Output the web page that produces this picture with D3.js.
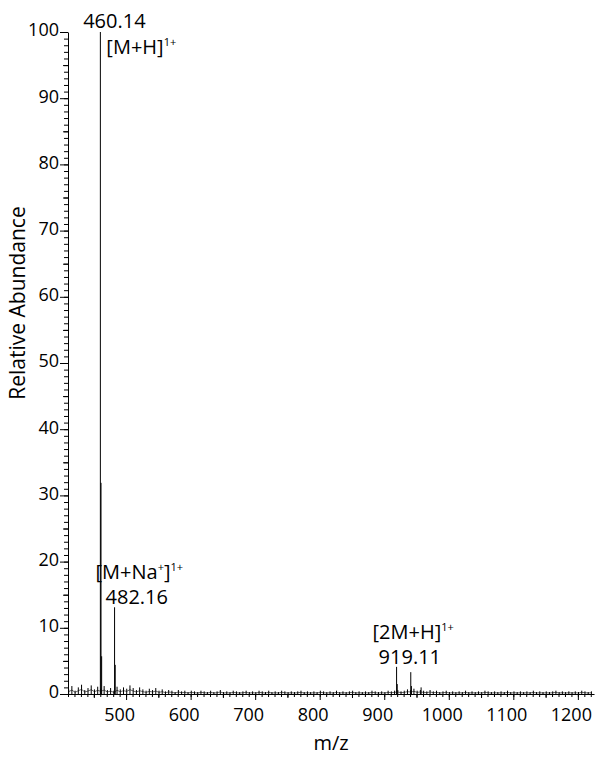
<!DOCTYPE html>
<html>
<head>
<meta charset="utf-8">
<script src="https://cdn.jsdelivr.net/npm/d3@7"></script>
<style>
  html, body { margin: 0; padding: 0; background: #fff; }
  svg { display: block; font-family: "Open Sans", "Noto Sans", sans-serif; }
</style>
</head>
<body>
<svg id="chart" width="596" height="757"></svg>
<script>
// ---------- data ----------
const xTickValues = [500, 600, 700, 800, 900, 1000, 1100, 1200];
const yTickValues = [0, 10, 20, 30, 40, 50, 60, 70, 80, 90, 100];

// centroid peaks (m/z, relative abundance %)
const peakMz  = [460.14, 461.14, 462.14, 482.16, 483.16, 919.11, 920.11, 941.10, 942.10, 957.10];
const peakInt = [100,    31.9,   5.7,    13.1,   4.4,    4.1,    1.5,    3.3,    1.2,    1.0];

// baseline noise sampled every 5 m/z starting at 411
const noiseStart = 411;
const noiseStep = 5;
const noiseInt = [
  0.7,1.2,0.5,1.0,1.4,0.6,0.9,1.3,0.7,1.1,0.8,1.2,
  0.6,0.9,0.5,1.1,0.7,1.0,0.8,1.3,
  0.9,0.6,1.0,0.7,0.5,0.8,0.6,0.9,0.5,0.7,
  0.4,0.6,0.5,0.3,0.6,0.4,0.5,0.3,0.5,0.4,
  0.3,0.5,0.4,0.3,0.5,0.3,0.4,0.6,0.3,0.4,0.3,0.5,0.4,0.3,0.4,0.5,0.3,0.4,0.3,0.5,
  0.4,0.3,0.5,0.3,0.4,0.3,0.5,0.4,0.3,0.4,0.3,0.4,0.5,0.3,0.4,0.3,0.4,0.3,0.5,0.4,
  0.3,0.4,0.3,0.5,0.3,0.4,0.3,0.4,0.5,0.3,0.4,0.3,0.4,0.3,0.5,0.4,0.3,0.4,0.3,0.5,
  0.4,0.5,0.6,0.4,0.5,0.7,0.6,0.8,0.5,0.6,0.5,0.4,0.6,0.4,0.5,0.3,0.4,0.5,0.3,0.4,
  0.3,0.4,0.3,0.5,0.3,0.4,0.3,0.4,0.3,0.5,0.4,0.3,0.4,0.3,0.4,0.3,0.5,0.3,0.4,0.3,
  0.4,0.3,0.4,0.3,0.5,0.3,0.4,0.3,0.4,0.3,0.4,0.5,0.3,0.4,0.3,0.4,0.3,0.4,0.3,0.5,0.4,0.3,0.4
];

// annotations
const annoPeak  = [460.14, 482.16, 919.11];
const annoMass  = ["460.14", "482.16", "919.11"];
const annoIon   = [["[M+H]", "1+"], ["[M+Na", "+", "]", "1+"], ["[2M+H]", "1+"]];

// ---------- layout ----------
const svg = d3.select("#chart");
const x = d3.scaleLinear().domain([410, 1225]).range([68, 594]);
const y = d3.scaleLinear().domain([0, 100]).range([694, 32]);

// ---------- axes ----------
const axisFont = 18;
const xMinor = d3.range(410, 1221, 10);
const yMinor = d3.range(0, 101, 1);

const gx = svg.append("g").attr("transform", `translate(0,${y(0)})`);
gx.call(d3.axisBottom(x).tickValues(xMinor).tickSize(3).tickSizeOuter(0).tickFormat(""));
gx.append("g").call(d3.axisBottom(x).tickValues(d3.range(450, 1221, 100)).tickSize(4).tickFormat(""))
  .select(".domain").remove();
const gxMaj = gx.append("g").call(d3.axisBottom(x).tickValues(xTickValues).tickSize(6).tickPadding(8).tickFormat(d3.format("d")));
gxMaj.select(".domain").remove();
gxMaj.selectAll("text").attr("font-size", axisFont).attr("font-family", "Open Sans").attr("fill", "#000").attr("dx", -7);

const gy = svg.append("g").attr("transform", `translate(${x(410)},0)`);
gy.call(d3.axisLeft(y).tickValues(yMinor).tickSize(4).tickSizeOuter(0).tickFormat(""));
gy.append("g").call(d3.axisLeft(y).tickValues(d3.range(5, 100, 10)).tickSize(5).tickFormat(""))
  .select(".domain").remove();
const gyMaj = gy.append("g").call(d3.axisLeft(y).tickValues(yTickValues).tickSize(8).tickPadding(1).tickFormat(d3.format("d")));
gyMaj.select(".domain").remove();
gyMaj.selectAll("text").attr("font-size", axisFont).attr("font-family", "Open Sans").attr("fill", "#000").attr("dy", "0.22em");

svg.selectAll(".domain").attr("stroke", "#000").attr("stroke-width", 1);
svg.selectAll(".tick line").attr("stroke", "#000").attr("stroke-width", 1);

// ---------- noise (sticks + thin trace) ----------
const noiseData = noiseInt.map((v, i) => [noiseStart + i * noiseStep, v]);
svg.append("path")
  .datum(noiseData)
  .attr("fill", "none")
  .attr("stroke", "#000")
  .attr("stroke-width", 0.6)
  .attr("d", d3.line().x(d => x(d[0])).y(d => y(d[1] * 0.5)));

svg.append("g").selectAll("line")
  .data(noiseData)
  .join("line")
  .attr("x1", d => x(d[0])).attr("x2", d => x(d[0]))
  .attr("y1", y(0)).attr("y2", d => y(d[1]))
  .attr("stroke", "#000").attr("stroke-width", 1);

// ---------- peaks ----------
const peaks = peakMz.map((m, i) => ({ mz: m, v: peakInt[i] }));
svg.append("g").selectAll("line")
  .data(peaks)
  .join("line")
  .attr("x1", d => x(d.mz)).attr("x2", d => x(d.mz))
  .attr("y1", y(0)).attr("y2", d => y(d.v))
  .attr("stroke", "#000").attr("stroke-width", 1);

// ---------- annotations ----------
const annoFont = 20;
const supFont = 11;
const massCfg = [{ dx: 14, anchor: "middle" }, { dx: -9, anchor: "start" }, { dx: -18, anchor: "start" }];
const ionCfg  = [{ dx: 6 }, { dx: -19 }, { dx: -24 }];

annoPeak.forEach((m, i) => {
  const px = x(m);
  const top = y(peakInt[peakMz.indexOf(m)]);
  svg.append("text")
    .attr("x", px + massCfg[i].dx)
    .attr("y", (i === 0 ? 28 : top - 3))
    .attr("text-anchor", massCfg[i].anchor)
    .attr("font-size", annoFont)
    .attr("fill", "#000")
    .text(annoMass[i]);

  const t = svg.append("text")
    .attr("x", px + ionCfg[i].dx)
    .attr("y", (i === 0 ? 54 : top - 28))
    .attr("font-size", annoFont)
    .attr("fill", "#000");
  const parts = annoIon[i];
  t.append("tspan").text(parts[0]);
  t.append("tspan").attr("font-size", supFont).attr("dy", -8).text(parts[1]);
  if (parts.length > 2) {
    t.append("tspan").attr("dy", 8).text(parts[2]);
    t.append("tspan").attr("font-size", supFont).attr("dy", -8).text(parts[3]);
  }
});

// ---------- axis titles ----------
svg.append("text")
  .attr("x", 331).attr("y", 750)
  .attr("text-anchor", "middle")
  .attr("font-size", 20)
  .attr("fill", "#000")
  .text("m/z");

svg.append("text")
  .attr("transform", "translate(25,303) rotate(-90)")
  .attr("text-anchor", "middle")
  .attr("font-size", 21)
  .attr("fill", "#000")
  .text("Relative Abundance");
</script>
</body>
</html>
